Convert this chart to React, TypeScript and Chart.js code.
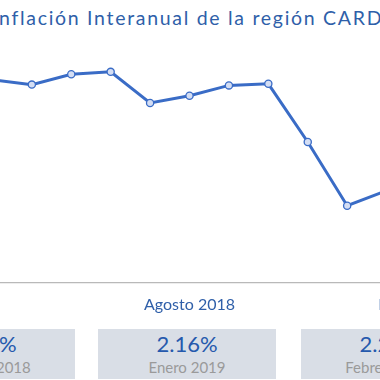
import React, { useEffect, useRef } from "react";
import { Chart, registerables } from "chart.js";

Chart.register(...registerables);

const months = [
  "Febrero 2018", "Marzo 2018", "Abril 2018", "Mayo 2018", "Junio 2018", "Julio 2018",
  "Agosto 2018", "Septiembre 2018", "Octubre 2018", "Noviembre 2018", "Diciembre 2018",
  "Enero 2019", "Febrero 2019",
];
const inflation = [3.45, 3.55, 3.49, 3.62, 3.65, 3.26, 3.35, 3.48, 3.5, 2.77, 1.97, 2.16, 2.27];
const tickEvery = 6;
const cardIndexes = [0, 11, 12];
const titleText = "Inflación Interanual de la región CARD";

const BLUE = "#3a6cc6";
const TEXT_BLUE = "#2f5fa9";
const FONT = "Lato, 'Open Sans', sans-serif";

export default function App() {
  const ref = useRef<HTMLCanvasElement | null>(null);

  useEffect(() => {
    if (!ref.current) return;
    const chart = new Chart(ref.current, {
      type: "line",
      data: {
        labels: months,
        datasets: [
          {
            data: inflation,
            borderColor: BLUE,
            borderWidth: 3,
            pointRadius: 3.6,
            pointBackgroundColor: "#d4def4",
            pointBorderColor: BLUE,
            pointBorderWidth: 1.3,
            tension: 0,
            clip: false as any,
          },
        ],
      },
      options: {
        animation: false,
        responsive: false,
        maintainAspectRatio: false,
        layout: { padding: { left: 60, right: 60, top: 40, bottom: 0 } },
        plugins: { legend: { display: false }, tooltip: { enabled: false }, title: { display: false } },
        scales: {
          x: {
            offset: false,
            grid: { display: false, drawTicks: false },
            border: { display: true, color: "#b9b9b9", width: 1.2 },
            ticks: {
              autoSkip: false,
              maxRotation: 0,
              padding: 12,
              color: TEXT_BLUE,
              font: { family: FONT, size: 16 },
              callback: (_v: any, i: number) => (i % tickEvery === 0 ? months[i] : ""),
            },
            afterFit: (s: any) => {
              s.height = 40;
            },
          },
          y: { display: false, min: 1.0, max: 4.05 },
        },
      },
    });
    return () => chart.destroy();
  }, []);

  const cardCenters = [-14, 187, 390];

  return (
    <div
      style={{
        position: "fixed",
        left: 0,
        top: 0,
        width: 380,
        height: 380,
        overflow: "hidden",
        background: "#fff",
        fontFamily: FONT,
      }}
    >
      <div
        style={{
          position: "absolute",
          left: -8,
          top: 6,
          whiteSpace: "nowrap",
          fontSize: 19.5,
          letterSpacing: 1.7,
          lineHeight: "normal",
          color: TEXT_BLUE,
        }}
      >
        {titleText}
      </div>
      <canvas
        ref={ref}
        width={593}
        height={323}
        style={{ position: "absolute", left: -107, top: 0, width: 593, height: 323 }}
      />
      {cardIndexes.map((idx, k) => (
        <div
          key={k}
          style={{
            position: "absolute",
            left: cardCenters[k] - 89,
            top: 329,
            width: 178,
            height: 50,
            background: "#d9dee6",
          }}
        >
          <div
            style={{
              position: "absolute",
              left: 0,
              right: 0,
              top: 1,
              textAlign: "center",
              fontSize: 22,
              lineHeight: "normal",
              color: "#2559ad",
            }}
          >
            {inflation[idx].toFixed(2) + "%"}
          </div>
          <div
            style={{
              position: "absolute",
              left: 0,
              right: 0,
              top: 29,
              textAlign: "center",
              fontSize: 15,
              lineHeight: "normal",
              color: "#9a9a9a",
            }}
          >
            {months[idx]}
          </div>
        </div>
      ))}
    </div>
  );
}
